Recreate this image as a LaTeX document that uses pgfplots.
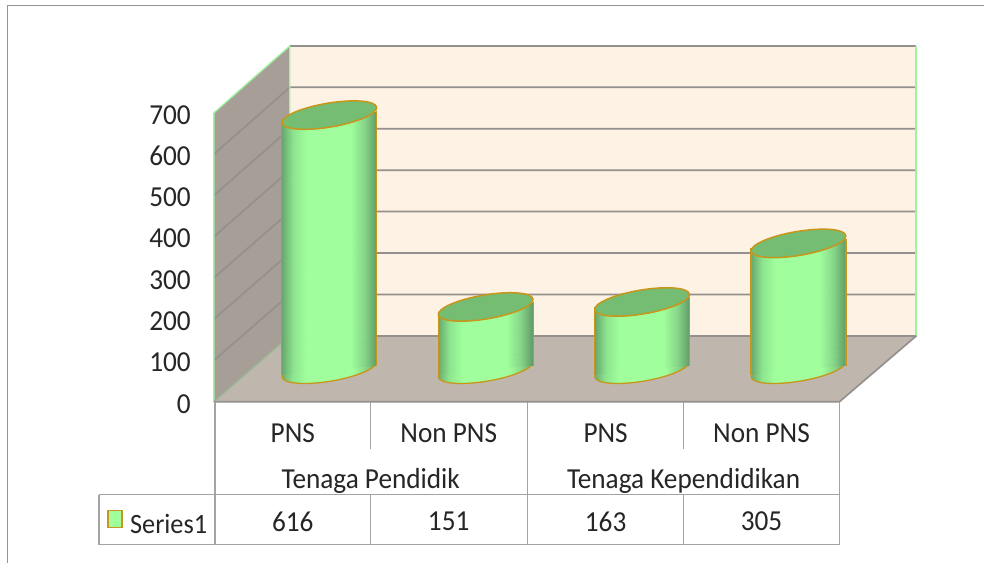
\documentclass[border=0pt]{standalone}
\usepackage{fontspec}
\setmainfont[FakeStretch=0.94]{Carlito}
\usepackage{pgfplots}
\pgfplotsset{compat=1.18}
\definecolor{wallL}{HTML}{A79E97}
\definecolor{floorC}{HTML}{BFB6AE}
\definecolor{backC}{HTML}{FDF2E3}
\definecolor{gridC}{HTML}{93908D}
\definecolor{edgeG}{HTML}{9CF59C}
\definecolor{frameC}{HTML}{A3A3A3}
\definecolor{cylTop}{HTML}{74BD73}
\definecolor{cylLine}{HTML}{C8961A}
\definecolor{cylMid}{HTML}{A0FF9C}
\definecolor{cylEL}{HTML}{68A86E}
\definecolor{cylER}{HTML}{5F9A66}
\definecolor{cylAL}{HTML}{8DE58E}
\definecolor{cylAR}{HTML}{86D488}
\definecolor{txt}{HTML}{262626}
\pgfdeclarehorizontalshading{cyl}{100bp}{color(0bp)=(cylEL);color(25bp)=(cylEL);color(31bp)=(cylAL);color(38bp)=(cylMid);color(62bp)=(cylMid);color(69bp)=(cylAR);color(75bp)=(cylER);color(100bp)=(cylER)}
\pgfdeclareplotmark{cyltop}{%
  \pgfpathellipse{\pgfpointorigin}{\pgfpointpolar{9.5}{48pt}}{\pgfpointpolar{99.5}{12pt}}%
  \pgfusepathqfillstroke}
\pgfdeclareplotmark{cylbot}{%
  \pgfpathellipse{\pgfpointorigin}{\pgfpointpolar{9.5}{48pt}}{\pgfpointpolar{99.5}{12pt}}%
  \pgfshadepath{cyl}{0}%
  \pgfusepathqstroke}
\newcommand{\cylbase}[1]{%
  \addplot[only marks,mark=cylbot,mark options={draw=cylLine,line width=1.3pt}] coordinates {(#1,0)};
}
\newcommand{\cylinder}[2]{%
  \addplot[patch,patch type=rectangle,shader=interp,point meta=explicit] coordinates {
    (#1-0.3035,-12) [0] (#1+0.3035,11) [1] (#1+0.3035,#2+11) [1] (#1-0.3035,#2-12) [0]};
  \addplot[cylLine,line width=1.3pt] coordinates {(#1-0.3035,-15) (#1-0.3035,#2-12)};
  \addplot[cylLine,line width=1.3pt] coordinates {(#1+0.3035,9) (#1+0.3035,#2+11)};
  \addplot[only marks,mark=cyltop,mark options={fill=cylTop,draw=cylLine,line width=1.5pt}] coordinates {(#1,#2)};
}
\newcommand{\seg}[2][frameC]{\addplot[#1,line width=1.3pt] coordinates {#2};}
\newcommand{\grd}[1]{\addplot[gridC,line width=1.7pt] coordinates {#1};}
\newcommand{\tf}{\fontsize{29}{31}\selectfont\color{txt}}
\pgfplotsset{cylax/.style={at={(251.25pt,193.5pt)},anchor=south west,scale only axis,width=626pt,height=289pt,
  xmin=-0.5,xmax=3.5,ymin=0,ymax=700,hide axis,clip=false,
  colormap={cylmap}{[1pt] color(0pt)=(cylEL); color(12pt)=(cylAL); color(26pt)=(cylMid); color(72pt)=(cylMid); color(87pt)=(cylAR); color(100pt)=(cylER)},
  point meta min=0,point meta max=1}}
\begin{document}
\begin{tikzpicture}
% chrome, in picture pixels
\begin{axis}[at={(0pt,0pt)},anchor=south west,scale only axis,width=985pt,height=563pt,
  xmin=0,xmax=985,ymin=0,ymax=563,y dir=reverse,hide axis,clip=false]
\addplot[fill=white,draw=none] coordinates {(0,0) (985,0) (985,563) (0,563)} -- cycle;
\seg[frameC!90!black]{(7.5,563) (7.5,5.5) (985,5.5)}
\addplot[fill=backC,draw=none] coordinates {(290,46) (917,46) (917,336) (290,336)} -- cycle;
\addplot[fill=wallL,draw=none] coordinates {(214,113) (290,46) (290,336) (214,402)} -- cycle;
\addplot[fill=floorC,draw=none] coordinates {(214,402) (290,336) (917,336) (840,402)} -- cycle;
% gridlines on back and side walls
\grd{(214,154.3) (290,87.4) (917,87.4)}
\grd{(214,195.6) (290,128.8) (917,128.8)}
\grd{(214,236.9) (290,170.3) (917,170.3)}
\grd{(214,278.1) (290,211.7) (917,211.7)}
\grd{(214,319.4) (290,253.1) (917,253.1)}
\grd{(214,360.7) (290,294.6) (917,294.6)}
\addplot[gridC,line width=2.2pt] coordinates {(290,46) (917,46)};
\grd{(290,336) (917,336)}
\seg[edgeG]{(214,402) (214,113) (290,46) (290,336)}
\addplot[edgeG,line width=2pt] coordinates {(917,46) (917,336)};
\seg[gridC!60!edgeG]{(214,402) (290,336)}
\grd{(917,336) (840,402) (214,402)}
% data table rules
\seg{(215,402) (215,545)}
\seg{(371,402) (371,449)}
\seg{(527.5,402) (527.5,495)}
\seg{(684,402) (684,449)}
\seg{(840,402) (840,545)}
\seg{(99,495) (840,495)}
\seg{(99,545) (840,545)}
\seg{(99,495) (99,545)}
\seg{(371,495) (371,545)}
\seg{(527.5,495) (527.5,545)}
\seg{(684,495) (684,545)}
\addplot[fill=cylMid,draw=cylLine,line width=1.2pt] coordinates {(108,511) (122,511) (122,528) (108,528)} -- cycle;
\node[inner sep=0pt] at (axis cs:293,433) {\tf PNS};
\node[inner sep=0pt] at (axis cs:449,433) {\tf Non PNS};
\node[inner sep=0pt] at (axis cs:606,433) {\tf PNS};
\node[inner sep=0pt] at (axis cs:762,433) {\tf Non PNS};
\node[inner sep=0pt] at (axis cs:371,481) {\tf Tenaga Pendidik};
\node[inner sep=0pt] at (axis cs:684,481) {\tf Tenaga Kependidikan};
\node[inner sep=0pt,anchor=west] at (axis cs:130,524) {\fontsize{28}{30}\selectfont\color{txt} Series1};
\node[inner sep=0pt] at (axis cs:293,522) {\tf 616};
\node[inner sep=0pt] at (axis cs:449,522) {\tf 151};
\node[inner sep=0pt] at (axis cs:606,522) {\tf 163};
\node[inner sep=0pt] at (axis cs:762,522) {\tf 305};
\end{axis}
% value axis on the front edge
\begin{axis}[at={(214pt,161pt)},anchor=south west,scale only axis,width=626pt,height=289pt,
  xmin=-0.5,xmax=3.5,ymin=0,ymax=700,ytick={0,100,...,700},xtick=\empty,
  axis y line*=left,axis x line=none,axis line style={draw=none},major tick length=0pt,
  /pgf/number format/assume math mode=true,
  yticklabel style={font=\tf,inner sep=0pt,xshift=-23pt,yshift=-2pt}]
\addplot[draw=none] coordinates {(0,0)};
\end{axis}
% cylinders, moved to the depth of the chart
\begin{axis}[cylax]
\cylbase{0}
\cylbase{1}
\cylbase{2}
\cylbase{3}
\end{axis}
\begin{axis}[cylax]
\cylinder{0}{616}
\cylinder{1}{151}
\cylinder{2}{163}
\cylinder{3}{305}
\end{axis}
\end{tikzpicture}
\end{document}
